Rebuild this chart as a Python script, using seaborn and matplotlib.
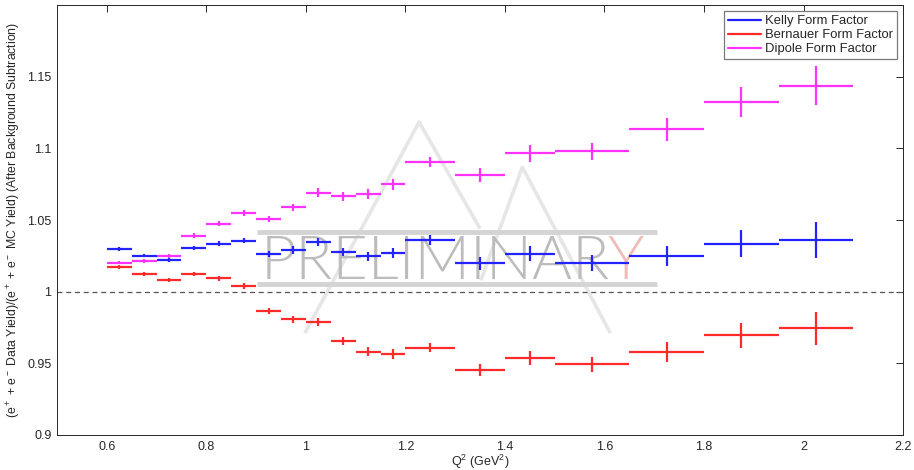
import numpy as np
import pandas as pd
import matplotlib
matplotlib.use("Agg")
import matplotlib.pyplot as plt
from matplotlib.lines import Line2D
import seaborn as sns

# Q^2 bins (GeV^2): lower and upper edges
bin_lo = [0.60, 0.65, 0.70, 0.75, 0.80, 0.85, 0.90, 0.95, 1.00, 1.05,
          1.10, 1.15, 1.20, 1.30, 1.40, 1.50, 1.65, 1.80, 1.95]
bin_hi = [0.65, 0.70, 0.75, 0.80, 0.85, 0.90, 0.95, 1.00, 1.05, 1.10,
          1.15, 1.20, 1.30, 1.40, 1.50, 1.65, 1.80, 1.95, 2.10]

# yield ratios (data / MC) for each form factor model
kelly = [1.0298, 1.0252, 1.0222, 1.0305, 1.0336, 1.0357, 1.0264, 1.0291, 1.0350, 1.0277,
         1.0247, 1.0270, 1.0359, 1.0198, 1.0266, 1.0198, 1.0250, 1.0336, 1.0360]
bernauer = [1.0173, 1.0124, 1.0079, 1.0126, 1.0093, 1.0040, 0.9867, 0.9809, 0.9788, 0.9655,
            0.9580, 0.9564, 0.9609, 0.9452, 0.9535, 0.9493, 0.9580, 0.9695, 0.9745]
dipole = [1.0203, 1.0217, 1.0247, 1.0390, 1.0475, 1.0552, 1.0508, 1.0589, 1.0692, 1.0666,
          1.0685, 1.0750, 1.0904, 1.0816, 1.0965, 1.0979, 1.1133, 1.1321, 1.1438]

# statistical uncertainties
kelly_err = [0.0012, 0.0013, 0.0014, 0.0016, 0.0018, 0.0020, 0.0022, 0.0025, 0.0028, 0.0030,
             0.0033, 0.0037, 0.0034, 0.0043, 0.0054, 0.0055, 0.0072, 0.0097, 0.0124]
bernauer_err = [0.0012, 0.0013, 0.0014, 0.0015, 0.0017, 0.0019, 0.0021, 0.0024, 0.0026, 0.0029,
                0.0032, 0.0035, 0.0033, 0.0041, 0.0050, 0.0052, 0.0068, 0.0090, 0.0116]
dipole_err = [0.0013, 0.0014, 0.0015, 0.0017, 0.0019, 0.0021, 0.0023, 0.0026, 0.0029, 0.0032,
              0.0035, 0.0039, 0.0037, 0.0047, 0.0058, 0.0058, 0.0080, 0.0105, 0.0138]

series_names = ["Kelly Form Factor", "Bernauer Form Factor", "Dipole Form Factor"]
series_colors = ["#2323ff", "#ff2b2b", "#ff33ff"]

x_ticks = [0.6, 0.8, 1.0, 1.2, 1.4, 1.6, 1.8, 2.0, 2.2]
x_tick_labels = ["0.6", "0.8", "1", "1.2", "1.4", "1.6", "1.8", "2", "2.2"]
y_ticks = [0.9, 0.95, 1.0, 1.05, 1.1, 1.15]
y_tick_labels = ["0.9", "0.95", "1", "1.05", "1.1", "1.15"]

# long-form table of all measurements
lo = np.array(bin_lo)
hi = np.array(bin_hi)
frames = []
for name, vals, errs in zip(series_names, [kelly, bernauer, dipole],
                            [kelly_err, bernauer_err, dipole_err]):
    frames.append(pd.DataFrame({
        "model": name,
        "q2": (lo + hi) / 2,
        "q2_half": (hi - lo) / 2,
        "ratio": vals,
        "err": errs,
    }))
df = pd.concat(frames, ignore_index=True)

sns.set_theme(style="white")
plt.rcParams["font.family"] = ["Liberation Sans", "DejaVu Sans"]
plt.rcParams["mathtext.default"] = "regular"

fig = plt.figure(figsize=(9.14, 4.70), dpi=100)
ax = fig.add_axes([0.0624, 0.0745, 0.9256, 0.9145])

# PRELIMINARY watermark (axes coordinates)
wm_kw = dict(transform=ax.transAxes, zorder=0, solid_capstyle="butt")
ax.plot([0.293, 0.428, 0.500], [0.237, 0.728, 0.480], color="#e6e6e6", lw=2.6, **wm_kw)
ax.plot([0.501, 0.550, 0.654], [0.360, 0.623, 0.237], color="#e6e6e6", lw=2.6, **wm_kw)
ax.plot([0.2364, 0.709], [0.473, 0.473], color="#d4d4d4", lw=3.5, **wm_kw)
ax.plot([0.2364, 0.709], [0.351, 0.351], color="#d4d4d4", lw=3.5, **wm_kw)
ax.text(0.241, 0.362, "PRELIMINAR", transform=ax.transAxes, fontsize=44,
        family=["Lato", "DejaVu Sans"], fontweight=300, color="#bcbcbc",
        ha="left", va="baseline", zorder=0.5)
ax.text(0.650, 0.362, "Y", transform=ax.transAxes, fontsize=44,
        family=["Lato", "DejaVu Sans"], fontweight=300, color="#f0bcba",
        ha="left", va="baseline", zorder=0.5)

# reference line at unity
ax.axhline(1.0, color="#555555", lw=0.9, ls=(0, (4, 3)), zorder=1)

for name, color in zip(series_names, series_colors):
    sub = df[df["model"] == name]
    ax.errorbar(sub["q2"], sub["ratio"], xerr=sub["q2_half"], yerr=sub["err"],
                fmt="none", ecolor=color, elinewidth=1.6, capsize=0, zorder=3)

handles = [Line2D([], [], color=c, lw=1.6) for c in series_colors]
leg = ax.legend(handles, series_names, loc="upper right", fontsize=9.4,
                frameon=True, fancybox=False, framealpha=1, edgecolor="#7a7a7a",
                handlelength=2.5, handletextpad=0.35, borderpad=0.3,
                labelspacing=0.15, borderaxespad=0.45)
leg.get_frame().set_linewidth(0.9)

ax.set_xlim(0.5, 2.2)
ax.set_ylim(0.9, 1.2)
ax.set_xticks(x_ticks)
ax.set_xticklabels(x_tick_labels)
ax.set_yticks(y_ticks)
ax.set_yticklabels(y_tick_labels)
ax.tick_params(direction="in", length=5, width=0.7, colors="#262626",
               labelsize=9, top=True, right=True, pad=4)
for sp in ax.spines.values():
    sp.set_color("#262626")
    sp.set_linewidth(0.7)

ax.set_xlabel("Q$^2$ (GeV$^2$)", fontsize=9, labelpad=0, color="#262626")
ax.set_ylabel("(e$^+$ + e$^-$ Data Yield)/(e$^+$ + e$^-$ MC Yield) (After Background Subtraction)",
              fontsize=8.8, labelpad=3, color="#262626")
ax.grid(False)

fig.savefig("out.png", dpi=100, facecolor="white")
